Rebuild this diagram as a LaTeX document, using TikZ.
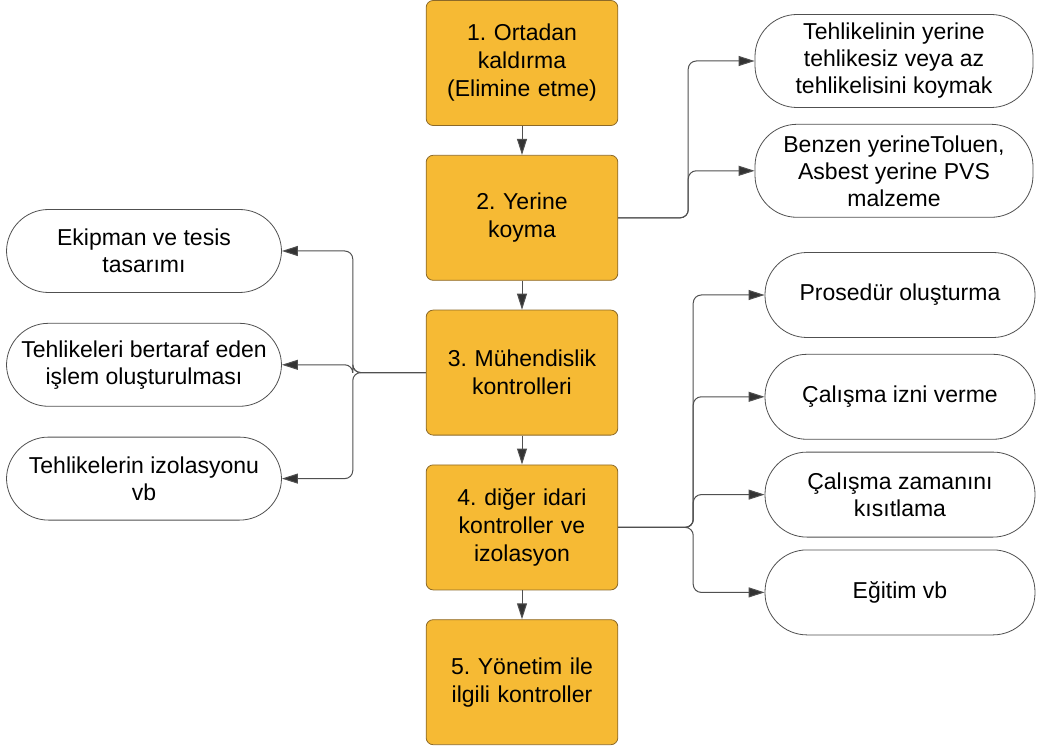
\documentclass[tikz,border=0pt]{standalone}
\usepackage{fontspec}
\setmainfont{Liberation Sans}
\usetikzlibrary{positioning,arrows.meta}
\frenchspacing

\definecolor{boxfill}{RGB}{246,186,52}
\definecolor{boxline}{RGB}{140,105,40}
\definecolor{linegray}{RGB}{80,80,80}

\tikzset{
    level/.style={draw=boxline, fill=boxfill, rounded corners=7pt, line width=0.8pt,
        minimum width=189pt, minimum height=125pt, text width=185pt, align=center,
        font=\fontsize{23}{28}\selectfont},
    option/.style={draw=linegray, fill=white, rounded corners=42pt, line width=0.8pt,
        minimum width=275pt, minimum height=85pt, inner sep=0pt, align=center,
        font=\fontsize{23}{27}\selectfont},
    link/.style={draw=linegray, line width=1pt, rounded corners=8pt,
        -{Triangle[length=16pt,width=10pt,fill=black!80]}},
}

\begin{document}
\begin{tikzpicture}[x=1pt, y=-1pt]
    \useasboundingbox (0,0) rectangle (1037,746);

    \node[level] (b1) at (522,63) {1. Ortadan\\kaldırma\\(Elimine etme)};
    \node[level, below=29pt of b1] (b2) {2. Yerine\\koyma};
    \node[level, below=29pt of b2] (b3) {3. Mühendislik\\kontrolleri};
    \node[level, below=29pt of b3] (b4) {4. diğer idari\\kontroller ve\\izolasyon};
    \node[level, below=29pt of b4] (b5) {5. Yönetim ile\\ilgili kontroller};

    \node[option, minimum width=278pt, minimum height=93pt] (r1) at (894,61) {Tehlikelinin yerine\\tehlikesiz veya az\\tehlikelisini koymak};
    \node[option, minimum width=278pt, minimum height=93pt, below=16pt of r1] (r2) {Benzen yerineToluen,\\Asbest yerine PVS\\malzeme};

    \node[option, minimum height=83pt] (l1) at (144,251) {Ekipman ve tesis\\tasarımı};
    \node[option, minimum height=83pt, below=30pt of l1] (l2) {Tehlikeleri bertaraf eden\\işlem oluşturulması};
    \node[option, minimum height=83pt, below=30pt of l2] (l3) {Tehlikelerin izolasyonu\\vb};

    \node[option, minimum width=270pt] (s1) at (900,295) {Prosedür oluşturma};
    \node[option, minimum width=270pt, below=16pt of s1] (s2) {Çalışma izni verme};
    \node[option, minimum width=270pt, below=12pt of s2] (s3) {Çalışma zamanını\\kısıtlama};
    \node[option, minimum width=270pt, below=12pt of s3] (s4) {Eğitim vb};

    \coordinate[right=70pt of b2.east] (j2);
    \coordinate[left=73pt of b3.west] (j3);
    \coordinate[right=75pt of b4.east] (j4);

    \draw[link] (b1) -- (b2);
    \draw[link] (b2) -- (b3);
    \draw[link] (b3) -- (b4);
    \draw[link] (b4) -- (b5);

    \draw[link] (b2.east) -- (j2) |- (r1.west);
    \draw[link] (b2.east) -- (j2) |- (r2.west);

    \draw[link] (b3.west) -- (j3) |- (l1.east);
    \draw[link] (b3.west) -- (j3) |- (l2.east);
    \draw[link] (b3.west) -- (j3) |- (l3.east);

    \draw[link] (b4.east) -- (j4) |- (s1.west);
    \draw[link] (b4.east) -- (j4) |- (s2.west);
    \draw[link] (b4.east) -- (j4) |- (s3.west);
    \draw[link] (b4.east) -- (j4) |- (s4.west);
\end{tikzpicture}
\end{document}
